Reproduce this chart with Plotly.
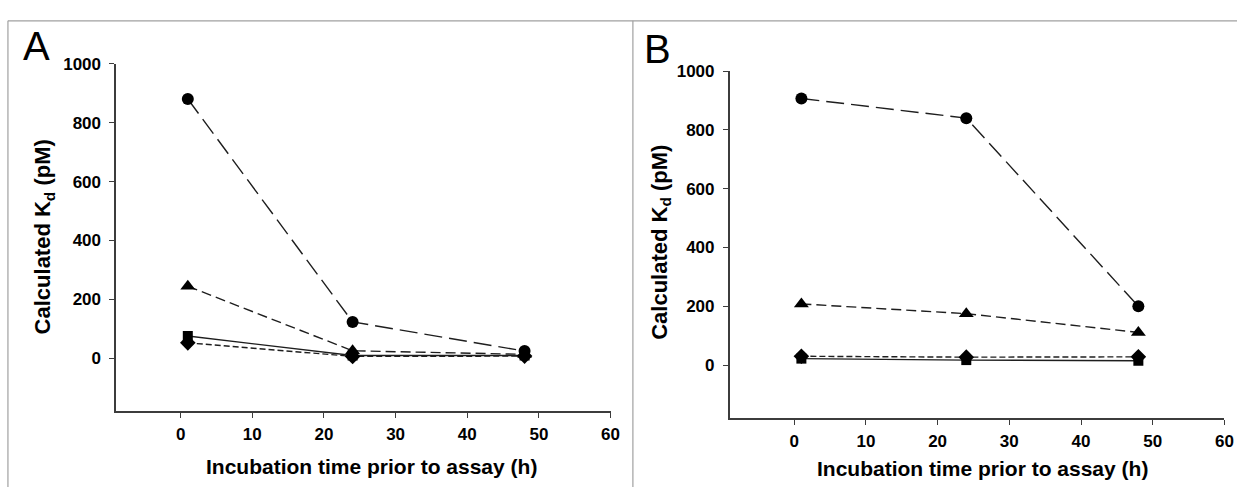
import plotly.graph_objects as go

# ---- data ----
hours = [1, 24, 48]
a_circle = [880, 124, 25]
a_triangle = [245, 26, 14]
a_square = [76, 10, 10]
a_diamond = [53, 7, 8]

b_circle = [907, 840, 200]
b_triangle = [208, 175, 111]
b_square = [22, 17, 15]
b_diamond = [30, 27, 28]

x_ticks = [0, 10, 20, 30, 40, 50, 60]
y_ticks = [0, 200, 400, 600, 800, 1000]
x_title = "Incubation time prior to assay (h)"
y_title = "Calculated K<sub>d</sub> (pM)"
panel_labels = ["A", "B"]

W, H = 1246, 487


def px(x):
    return x / W


def py(y):
    return 1 - y / H


FONT = "Arial, Liberation Sans, sans-serif"
LINE_COL = "#1e1e1e"
AX_COL = "#3c3c3c"

styles = {
    "square": dict(symbol="square", size=10, dash="solid"),
    "diamond": dict(symbol="diamond", size=12, dash="6px,3px"),
    "triangle": dict(symbol="triangle-up", size=13, dash="10px,5px"),
    "circle": dict(symbol="circle", size=12, dash="18px,7px"),
}

fig = go.Figure()

panels = [
    ("x", "y", {"square": a_square, "diamond": a_diamond, "triangle": a_triangle, "circle": a_circle}),
    ("x2", "y2", {"square": b_square, "diamond": b_diamond, "triangle": b_triangle, "circle": b_circle}),
]

for xa, ya, series in panels:
    for name in ["square", "diamond", "triangle", "circle"]:
        st = styles[name]
        fig.add_trace(go.Scatter(
            x=hours, y=series[name], xaxis=xa, yaxis=ya, mode="lines+markers",
            line=dict(color=LINE_COL, width=1.4, dash=st["dash"]),
            marker=dict(symbol=st["symbol"], size=st["size"], color="black",
                        line=dict(width=0)),
            showlegend=False, name=name,
        ))

axis_common = dict(
    showline=True, linecolor=AX_COL, linewidth=1.5, showgrid=False, zeroline=False,
    ticks="outside", ticklen=5, tickwidth=1.3, tickcolor=AX_COL,
    tickfont=dict(family=FONT, size=17, color="black", weight="bold"),
)

fig.update_layout(
    width=W, height=H, margin=dict(l=0, r=0, t=0, b=0),
    paper_bgcolor="white", plot_bgcolor="white",
    xaxis=dict(domain=[px(117), px(615)], range=[-9, 60], tickvals=x_ticks,
               anchor="y", ticklabelstandoff=2, **axis_common),
    yaxis=dict(domain=[py(409.5), py(55.7)], range=[-178, 1000], tickvals=y_ticks,
               anchor="x", ticklabelstandoff=5, **axis_common),
    xaxis2=dict(domain=[px(735), px(1233.3)], range=[-9, 60], tickvals=x_ticks,
                anchor="y2", ticklabelstandoff=2, **axis_common),
    yaxis2=dict(domain=[py(416.7), py(63.3)], range=[-180, 1000], tickvals=y_ticks,
                anchor="x2", ticklabelstandoff=5, **axis_common),
)

ann = []
# axis titles
for cx, cy in [(374, 466), (990, 468)]:
    ann.append(dict(text=x_title, x=px(cx), y=py(cy), xref="paper", yref="paper",
                    xanchor="center", yanchor="middle", showarrow=False,
                    font=dict(family=FONT, size=21, color="black", weight="bold")))
for cx, cy in [(44, 232), (665, 238)]:
    ann.append(dict(text=y_title, x=px(cx), y=py(cy), xref="paper", yref="paper",
                    xanchor="center", yanchor="middle", showarrow=False, textangle=-90,
                    font=dict(family=FONT, size=22, color="black", weight="bold")))
# panel letters
for lbl, lx, ly in zip(panel_labels, [21, 647], [38, 41]):
    ann.append(dict(text=lbl, x=px(lx), y=py(ly), xref="paper", yref="paper",
                    xanchor="left", yanchor="middle", showarrow=False,
                    font=dict(family=FONT, size=40, color="black")))
fig.update_layout(annotations=ann)

# frame lines
FRAME = "#a0a0a0"
shapes = [
    dict(type="line", xref="paper", yref="paper", x0=px(8), x1=1, y0=py(12), y1=py(12),
         line=dict(color=FRAME, width=1.2)),
    dict(type="line", xref="paper", yref="paper", x0=px(8), x1=px(8), y0=py(12), y1=0,
         line=dict(color=FRAME, width=1.2)),
    dict(type="line", xref="paper", yref="paper", x0=px(637.5), x1=px(637.5), y0=py(12), y1=0,
         line=dict(color=FRAME, width=1.2)),
]
fig.update_layout(shapes=shapes)

fig.write_html("out.html")
